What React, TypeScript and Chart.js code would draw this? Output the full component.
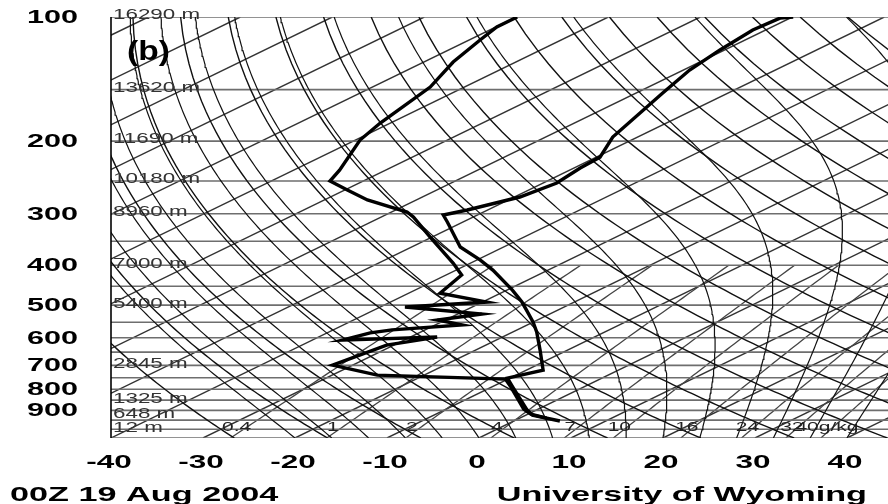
import React, { useEffect, useRef } from 'react';
import { Chart, registerables } from 'chart.js';

Chart.register(...registerables);

// ---- axis ticks ----
const pressureTicks = [100, 200, 300, 400, 500, 600, 700, 800, 900];
const temperatureTicks = [-40, -30, -20, -10, 0, 10, 20, 30, 40];

// ---- background reference levels ----
const isobarLevels = [100, 150, 200, 250, 300, 350, 400, 450, 500, 550, 600, 650, 700, 750, 800, 850, 900, 950, 1000, 1050];
const isothermLevels = [-130, -120, -110, -100, -90, -80, -70, -60, -50, -40, -30, -20, -10, 0, 10, 20, 30, 40];
const dryAdiabatLevels = [-30, -20, -10, 0, 10, 20, 30, 40, 50, 60, 70, 80, 90, 100, 110, 120, 130, 140, 150, 160, 170];
const moistAdiabatLevels = [-20, -16, -12, -8, -4, 0, 4, 8, 12, 16, 20, 24, 28, 32, 36, 40];
const mixingRatioLevels = [0.4, 1, 2, 4, 7, 10, 16, 24, 32, 40];
const mixingRatioLabels = ['0.4', '1', '2', '4', '7', '10', '16', '24', '32', '40g/kg'];
const heightLevels = [100, 150, 200, 250, 300, 400, 500, 700, 850, 925, 1000];
const heightLabels = ['16290 m', '13620 m', '11690 m', '10180 m', '8960 m', '7000 m', '5400 m', '2845 m', '1325 m', '648 m', '12 m'];

// ---- sounding ----
const tempPressure = [955, 923.9, 898.4, 790.1, 751.3, 718.6, 642.6, 581.0, 549.7, 514.1, 491.4, 459.8, 411.1, 388.7, 361.4, 314.2, 302.2, 293.9, 273.3, 252.8, 232.5, 218.7, 195.5, 152.9, 134.5, 120.2, 107.5, 100.6, 100];
const tempValues = [5.0, 0.7, -1.0, -7.7, -10.3, -8.2, -13.0, -17.4, -20.0, -23.4, -25.7, -29.4, -36.0, -39.6, -44.7, -51.7, -53.7, -52.2, -49.4, -48.5, -49.3, -49.6, -52.7, -57.1, -59.3, -60.5, -61.4, -61.1, -59.9];
const dewPressure = [939.4, 918.8, 893.4, 790.1, 755.5, 738.9, 698.8, 624.9, 597.5, 607.7, 583.8, 574.1, 558.4, 543.1, 525.3, 505.3, 491.4, 467.5, 422.5, 395.2, 341.8, 305.6, 297.2, 277.9, 262.9, 250, 235.2, 198.8, 180.8, 147.9, 128.6, 113.7, 105.7, 100];
const dewValues = [2.9, 0.3, -1.6, -7.9, -10.3, -25.1, -32.2, -30.8, -27.1, -36.7, -35.3, -33.6, -27.1, -30.9, -27.4, -37.3, -29.5, -36.6, -38.3, -41.9, -50.2, -56.5, -58.3, -65.3, -69.7, -73.6, -75.0, -79.5, -81.1, -83.7, -86.8, -88.8, -89.9, -89.9];

const SKEW = 40;
const P_BOTTOM = 1050;
const P_TOP = 100;
const X_MIN = -40;
const X_MAX = 44.46;
const MR_TOP = 400;

const Rd = 287.04, Cp = 1005.7, Lv = 2.501e6, EPS = 0.622;

function skewX(tc: number, p: number) {
  return tc + SKEW * Math.log(P_BOTTOM / p);
}
function pt(tc: number, p: number) {
  return { x: skewX(tc, p), y: p };
}
function es(tc: number) {
  return 6.112 * Math.exp((17.67 * tc) / (tc + 243.5));
}
function dTdlnP(T: number, P: number) {
  const e = es(T - 273.15);
  const rs = (EPS * e) / (P - e);
  return (Rd * T + Lv * rs) / (Cp + (Lv * Lv * rs * EPS) / (Rd * T * T));
}
function moistCurve(t0: number) {
  const pts = [pt(t0, P_BOTTOM)];
  let T = t0 + 273.15;
  let lnp = Math.log(P_BOTTOM);
  const n = 150;
  const h = (Math.log(P_TOP) - lnp) / n;
  for (let i = 0; i < n; i++) {
    const k1 = dTdlnP(T, Math.exp(lnp));
    const k2 = dTdlnP(T + (h * k1) / 2, Math.exp(lnp + h / 2));
    const k3 = dTdlnP(T + (h * k2) / 2, Math.exp(lnp + h / 2));
    const k4 = dTdlnP(T + h * k3, Math.exp(lnp + h));
    T += (h * (k1 + 2 * k2 + 2 * k3 + k4)) / 6;
    lnp += h;
    pts.push(pt(T - 273.15, Math.exp(lnp)));
  }
  return pts;
}
function dryCurve(thetaC: number) {
  const pts = [];
  for (let p = P_BOTTOM; p >= P_TOP; p -= 10) {
    const t = (thetaC + 273.15) * Math.pow(p / 1000, 0.2857) - 273.15;
    pts.push(pt(t, p));
  }
  return pts;
}
function mixingTd(w: number, p: number) {
  const e = (w * p) / (622 + w);
  const l = Math.log(e / 6.112);
  return (243.5 * l) / (17.67 - l);
}
function mixingCurve(w: number) {
  const pts = [];
  for (let p = MR_TOP; p <= P_BOTTOM; p += 10) pts.push(pt(mixingTd(w, p), p));
  return pts;
}
function isothermLine(t: number) {
  return [pt(t, P_TOP), pt(t, P_BOTTOM)];
}

function line(data: any[], color: string, width: number) {
  return { data, showLine: true, pointRadius: 0, borderColor: color, borderWidth: width, fill: false, tension: 0 };
}

function drawStretched(ctx: CanvasRenderingContext2D, text: string, x: number, y: number, align: CanvasTextAlign, sx: number) {
  ctx.save();
  ctx.translate(x, y);
  ctx.scale(sx, 1);
  ctx.textAlign = align;
  ctx.fillText(text, 0, 0);
  ctx.restore();
}

function strokeThroughScales(ctx: CanvasRenderingContext2D, xs: any, ys: any, pts: { x: number; y: number }[]) {
  ctx.beginPath();
  pts.forEach((q, i) => {
    const px = xs.getPixelForValue(q.x);
    const py = ys.getPixelForValue(q.y);
    if (i === 0) ctx.moveTo(px, py);
    else ctx.lineTo(px, py);
  });
  ctx.stroke();
}

// isotherms and mixing-ratio lines, drawn under the datasets through the chart scales
const gridPlugin = {
  id: 'skewtGrid',
  beforeDatasetsDraw(chart: any) {
    const { ctx, chartArea, scales } = chart;
    const xs = scales.x;
    const ys = scales.y;
    ctx.save();
    ctx.beginPath();
    ctx.rect(chartArea.left, chartArea.top, chartArea.right - chartArea.left, chartArea.bottom - chartArea.top);
    ctx.clip();
    ctx.lineWidth = 1.4;
    ctx.strokeStyle = '#333';
    isothermLevels.forEach((t) => strokeThroughScales(ctx, xs, ys, isothermLine(t)));
    ctx.lineWidth = 1.3;
    ctx.strokeStyle = '#444';
    mixingRatioLevels.forEach((w) => strokeThroughScales(ctx, xs, ys, mixingCurve(w)));
    ctx.restore();
  },
};

const textPlugin = {
  id: 'skewtText',
  afterDatasetsDraw(chart: any) {
    const { ctx, chartArea, scales } = chart;
    const xs = scales.x;
    const ys = scales.y;
    ctx.save();
    ctx.strokeStyle = '#000';
    ctx.lineWidth = 1.6;
    ctx.beginPath();
    ctx.moveTo(chartArea.left, chartArea.top);
    ctx.lineTo(chartArea.left, chartArea.bottom);
    ctx.stroke();

    // height labels
    ctx.fillStyle = '#333';
    ctx.font = '14px "Liberation Sans", Arial, sans-serif';
    ctx.textBaseline = 'middle';
    heightLevels.forEach((p, i) => {
      drawStretched(ctx, heightLabels[i], chartArea.left + 2, ys.getPixelForValue(p) - 1.5, 'left', 1.6);
    });

    // mixing ratio labels
    ctx.font = '12px "Liberation Sans", Arial, sans-serif';
    ctx.fillStyle = '#222';
    mixingRatioLevels.forEach((w, i) => {
      const px = xs.getPixelForValue(skewX(mixingTd(w, P_BOTTOM), P_BOTTOM)) + 6;
      drawStretched(ctx, mixingRatioLabels[i], px, 428, 'center', 1.75);
    });

    // panel letter
    ctx.fillStyle = '#000';
    ctx.font = 'bold 28px "Liberation Sans", Arial, sans-serif';
    drawStretched(ctx, '(b)', 127, 52, 'left', 1.2);

    // pressure tick labels
    ctx.font = 'bold 18px "Liberation Sans", Arial, sans-serif';
    ctx.textBaseline = 'middle';
    pressureTicks.forEach((p) => {
      drawStretched(ctx, String(p), 78, ys.getPixelForValue(p) + 1, 'right', 1.7);
    });
    // temperature tick labels
    ctx.textBaseline = 'alphabetic';
    temperatureTicks.forEach((t) => {
      drawStretched(ctx, String(t), xs.getPixelForValue(t) - 2, 468, 'center', 1.75);
    });

    ctx.font = 'bold 21px "Liberation Sans", Arial, sans-serif';
    drawStretched(ctx, '00Z 19 Aug 2004', 10, 501, 'left', 1.63);
    drawStretched(ctx, 'University of Wyoming', 867, 501, 'right', 1.63);
    ctx.restore();
  },
};

export default function App() {
  const ref = useRef<HTMLCanvasElement | null>(null);
  useEffect(() => {
    if (!ref.current) return;
    const datasets: any[] = [];
    datasets.push(line(tempPressure.map((p, i) => pt(tempValues[i], p)), '#000', 3.4));
    datasets.push(line(dewPressure.map((p, i) => pt(dewValues[i], p)), '#000', 3.4));
    moistAdiabatLevels.forEach((t) => datasets.push(line(moistCurve(t), '#111', 1.2)));
    dryAdiabatLevels.forEach((t) => datasets.push(line(dryCurve(t), '#111', 1.4)));
    isobarLevels.forEach((p) => datasets.push(line([{ x: X_MIN, y: p }, { x: X_MAX, y: p }], '#6e6e6e', 1.6)));

    const chart = new Chart(ref.current, {
      type: 'scatter',
      data: { datasets },
      options: {
        animation: false,
        responsive: false,
        devicePixelRatio: 1,
        events: [],
        layout: { padding: { left: 111, top: 17, right: 0, bottom: 66 } },
        plugins: { legend: { display: false }, tooltip: { enabled: false } },
        scales: {
          x: { type: 'linear', min: X_MIN, max: X_MAX, display: false },
          y: { type: 'logarithmic', min: P_TOP, max: P_BOTTOM, reverse: true, display: false },
        },
      },
      plugins: [gridPlugin, textPlugin],
    } as any);
    return () => chart.destroy();
  }, []);
  return (
    <div style={{ position: 'fixed', left: 0, top: 0, width: 888, height: 504, background: '#fff' }}>
      <canvas ref={ref} width={888} height={504} style={{ display: 'block', width: 888, height: 504 }} />
    </div>
  );
}
